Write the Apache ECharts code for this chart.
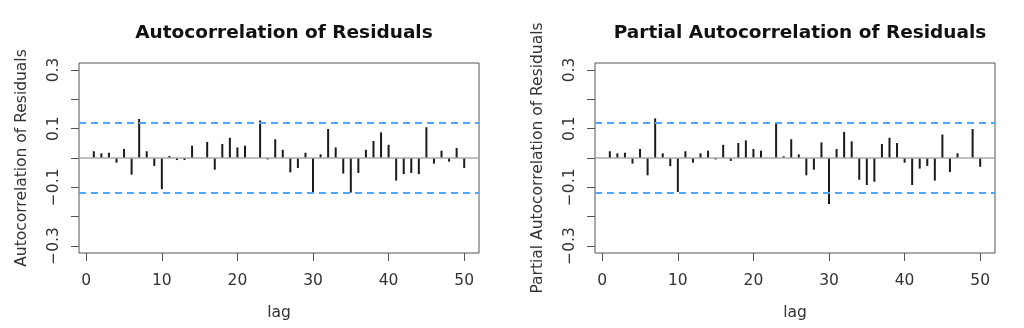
<!DOCTYPE html>
<html>
<head>
<meta charset="utf-8">
<script src="https://cdn.jsdelivr.net/npm/echarts@6/dist/echarts.min.js"></script>
<style>
html,body{margin:0;padding:0;background:#fff;}
#chart{width:1024px;height:328px;}
</style>
</head>
<body>
<div id="chart"></div>
<script>
const lags = [1,2,3,4,5,6,7,8,9,10,11,12,13,14,15,16,17,18,19,20,21,22,23,24,25,26,27,28,29,30,31,32,33,34,35,36,37,38,39,40,41,42,43,44,45,46,47,48,49,50];
const acfValues = [0.023,0.016,0.018,-0.016,0.031,-0.057,0.133,0.023,-0.027,-0.106,0.007,-0.007,-0.007,0.042,0.0,0.055,-0.040,0.048,0.069,0.036,0.042,0.0,0.128,-0.005,0.064,0.028,-0.049,-0.034,0.018,-0.117,0.0125,0.099,0.036,-0.053,-0.118,-0.051,0.028,0.058,0.0875,0.045,-0.077,-0.055,-0.051,-0.055,0.105,-0.019,0.025,-0.0125,0.034,-0.034];
const pacfValues = [0.023,0.016,0.018,-0.019,0.031,-0.059,0.135,0.016,-0.028,-0.116,0.023,-0.016,0.016,0.025,-0.005,0.045,-0.010,0.051,0.060,0.031,0.025,0.0,0.116,0.006,0.064,0.0125,-0.059,-0.040,0.053,-0.157,0.031,0.089,0.057,-0.074,-0.092,-0.081,0.048,0.069,0.051,-0.016,-0.092,-0.036,-0.027,-0.077,0.080,-0.048,0.016,0.0,0.099,-0.030];
const ciBound = 0.119;
const xTicks = [0,10,20,30,40,50];
const yTicks = [-0.3,-0.2,-0.1,0,0.1,0.2,0.3];
const yLabels = [-0.3,-0.1,0.1,0.3];
const titles = ['Autocorrelation of Residuals','Partial Autocorrelation of Residuals'];
const yNames = ['Autocorrelation of Residuals','Partial Autocorrelation of Residuals'];
const xName = 'lag';

const FONT = 'DejaVu Sans';
const chart = echarts.init(document.getElementById('chart'), null, {renderer:'canvas'});

const grids = [
  {left:79, right:545, top:63, bottom:75},
  {left:595, right:29, top:63, bottom:75}
];
const titleCenters = [279, 795];
const seriesData = [acfValues, pacfValues];

function fmtY(v){
  const s = (Math.round(v*10)/10).toFixed(1);
  return s.replace('-', '\u2212');
}

const option = {
  animation:false,
  backgroundColor:'#fff',
  title: titles.map((t,i)=>({
    text:t, left:titleCenters[i], top:19, textAlign:'center',
    textStyle:{fontFamily:FONT, fontSize:18.5, fontWeight:'bold', color:'#111'}
  })),
  grid: grids.map(g=>Object.assign({show:true, borderColor:'#555', borderWidth:1, backgroundColor:'transparent'}, g)),
  xAxis: grids.map((g,i)=>({
    type:'value', gridIndex:i, min:-0.96, max:51.96, position:'bottom',
    splitLine:{show:false},
    axisLine:{show:false, onZero:false},
    axisTick:{show:true, customValues:xTicks, length:8, lineStyle:{color:'#555', width:1}},
    axisLabel:{show:true, customValues:xTicks, fontFamily:FONT, fontSize:15.5, color:'#333', margin:20},
    name:xName, nameLocation:'middle', nameGap:52,
    nameTextStyle:{fontFamily:FONT, fontSize:15.5, color:'#333'}
  })),
  yAxis: grids.map((g,i)=>({
    type:'value', gridIndex:i, min:-0.324, max:0.324, position:'left',
    splitLine:{show:false},
    axisLine:{show:false, onZero:false},
    axisTick:{show:true, customValues:yTicks, length:8, lineStyle:{color:'#555', width:1}},
    axisLabel:{show:true, customValues:yLabels, rotate:90, formatter:fmtY, fontFamily:FONT, fontSize:15.5, color:'#333', margin:17},
    name:yNames[i], nameLocation:'middle', nameGap:49, nameRotate:90,
    nameTextStyle:{fontFamily:FONT, fontSize:15.5, color:'#333'}
  })),
  series: seriesData.map((vals,i)=>({
    type:'custom', xAxisIndex:i, yAxisIndex:i,
    data: lags.map((l,k)=>[l, vals[k]]),
    renderItem: function(params, api){
      const p0 = api.coord([api.value(0), 0]);
      const p1 = api.coord([api.value(0), api.value(1)]);
      return {type:'line', shape:{x1:p0[0], y1:p0[1], x2:p1[0], y2:p1[1]},
        style:{stroke:'#1a1a1a', lineWidth:2}};
    },
    markLine:{
      silent:true, symbol:['none','none'], label:{show:false},
      data:[
        {yAxis:0, lineStyle:{color:'#aaaaaa', width:1.5, type:'solid'}},
        {yAxis:ciBound, lineStyle:{color:'#4da6ff', width:2, type:[7,5]}},
        {yAxis:-ciBound, lineStyle:{color:'#4da6ff', width:2, type:[7,5]}}
      ]
    },
    z:3
  }))
};
chart.setOption(option);
</script>
</body>
</html>
